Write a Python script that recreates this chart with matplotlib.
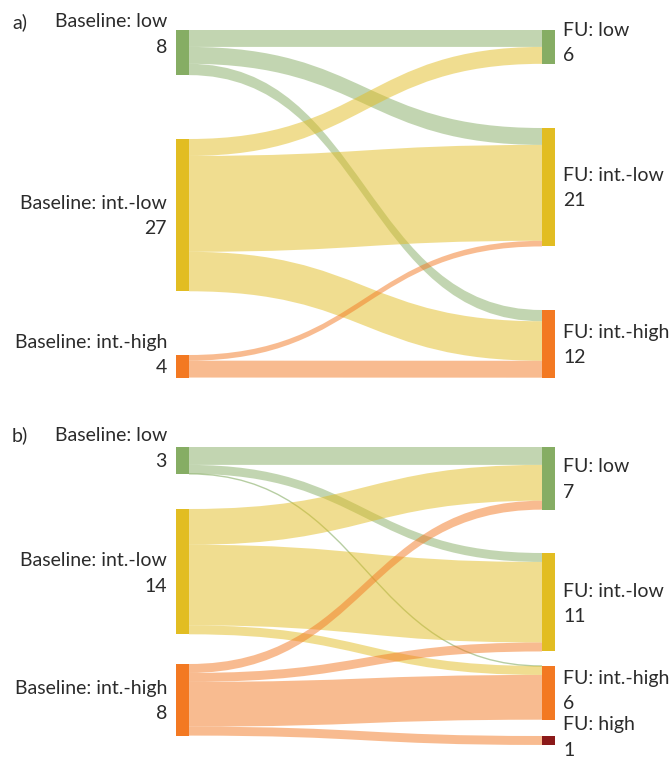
import matplotlib
matplotlib.use("Agg")
import matplotlib.pyplot as plt
from matplotlib.patches import Rectangle, PathPatch
from matplotlib.path import Path

# ---- data ----
levels = ["low", "int.-low", "int.-high", "high"]
level_colors = ["#86AD64", "#E2BD22", "#F37922", "#8B1919"]

# panel a
a_left = [0, 1, 2]          # baseline levels
a_right = [0, 1, 2]         # follow-up levels
a_src = [0, 0, 0, 1, 1, 1, 2, 2]
a_tgt = [0, 1, 2, 0, 1, 2, 1, 2]
a_val = [3, 3, 2, 3, 17, 7, 1, 3]

# panel b
b_left = [0, 1, 2]
b_right = [0, 1, 2, 3]
b_src = [0, 0, 0, 1, 1, 1, 2, 2, 2, 2]
b_tgt = [0, 1, 2, 0, 1, 2, 0, 1, 2, 3]
b_val = [2, 1, 0, 4, 9, 1, 1, 1, 5, 1]

# ---- layout (pixels) ----
W, H = 670, 759
XL0, XL1 = 176, 189
XR0, XR1 = 542, 555
panels = [
    dict(tag="a)", tag_y=22, left=a_left, right=a_right, src=a_src, tgt=a_tgt, val=a_val,
         scale=5.64, ltop=[30, 139, 355], rtop=[30, 128, 310],
         ldy=[-18, 1, -11], rdy=[-4, 1, 1]),
    dict(tag="b)", tag_y=435, left=b_left, right=b_right, src=b_src, tgt=b_tgt, val=b_val,
         scale=8.95, ltop=[447, 509, 664], rtop=[447, 553, 666, 736],
         ldy=[-12, 2, 1], rdy=[1, 2, -2, -3]),
]

plt.rcParams['font.family'] = ['Lato', 'DejaVu Sans']
FS = 14
TXT = "#2b2b2b"
LINE = 12.7

fig = plt.figure(figsize=(W / 100, H / 100), dpi=100)
ax = fig.add_axes([0, 0, 1, 1])
ax.set_xlim(0, W)
ax.set_ylim(H, 0)
ax.axis("off")


def band(x0, x1, y0a, y0b, y1a, y1b):
    xm = (x0 + x1) / 2
    verts = [(x0, y0a), (xm, y0a), (xm, y1a), (x1, y1a),
             (x1, y1b), (xm, y1b), (xm, y0b), (x0, y0b), (x0, y0a)]
    codes = [Path.MOVETO, Path.CURVE4, Path.CURVE4, Path.CURVE4,
             Path.LINETO, Path.CURVE4, Path.CURVE4, Path.CURVE4, Path.CLOSEPOLY]
    return Path(verts, codes)


for p in panels:
    s = p["scale"]
    n = len(p["src"])
    lsum = [sum(v for v, a in zip(p["val"], p["src"]) if a == i) for i in range(len(p["left"]))]
    rsum = [sum(v for v, b in zip(p["val"], p["tgt"]) if b == j) for j in range(len(p["right"]))]

    # links, ordered by the other end at each node
    lcur = list(p["ltop"])
    rcur = list(p["rtop"])
    order_src = sorted(range(n), key=lambda k: (p["src"][k], p["tgt"][k]))
    y_src = {}
    for k in order_src:
        y_src[k] = lcur[p["src"][k]]
        lcur[p["src"][k]] += p["val"][k] * s
    order_tgt = sorted(range(n), key=lambda k: (p["tgt"][k], p["src"][k]))
    y_tgt = {}
    for k in order_tgt:
        y_tgt[k] = rcur[p["tgt"][k]]
        rcur[p["tgt"][k]] += p["val"][k] * s

    for k in range(n):
        col = level_colors[p["left"][p["src"][k]]]
        h = p["val"][k] * s
        y0, y1 = y_src[k], y_tgt[k]
        if h > 0:
            ax.add_patch(PathPatch(band(XL1, XR0, y0, y0 + h, y1, y1 + h),
                                   facecolor=col, edgecolor="none", alpha=0.5))
        else:
            path = Path([(XL1, y0), ((XL1 + XR0) / 2, y0), ((XL1 + XR0) / 2, y1), (XR0, y1)],
                        [Path.MOVETO, Path.CURVE4, Path.CURVE4, Path.CURVE4])
            ax.add_patch(PathPatch(path, facecolor="none", edgecolor=col, lw=1.0, alpha=0.6))

    # nodes + labels
    for i, lv in enumerate(p["left"]):
        top, h = p["ltop"][i], lsum[i] * s
        ax.add_patch(Rectangle((XL0, top), XL1 - XL0, h, facecolor=level_colors[lv], edgecolor="none"))
        yc = top + h / 2 + p["ldy"][i]
        ax.text(167, yc - LINE, "Baseline: " + levels[lv], ha="right", va="center", fontsize=FS, color=TXT)
        ax.text(167, yc + LINE, f"{lsum[i]:.0f}", ha="right", va="center", fontsize=FS, color=TXT)
    for j, lv in enumerate(p["right"]):
        top, h = p["rtop"][j], rsum[j] * s
        ax.add_patch(Rectangle((XR0, top), XR1 - XR0, h, facecolor=level_colors[lv], edgecolor="none"))
        yc = top + h / 2 + p["rdy"][j]
        ax.text(563, yc - LINE, "FU: " + levels[lv], ha="left", va="center", fontsize=FS, color=TXT)
        ax.text(563, yc + LINE, f"{rsum[j]:.0f}", ha="left", va="center", fontsize=FS, color=TXT)

    ax.text(12, p["tag_y"], p["tag"], ha="left", va="center", fontsize=FS, color=TXT)

fig.savefig("out.png", dpi=100)
